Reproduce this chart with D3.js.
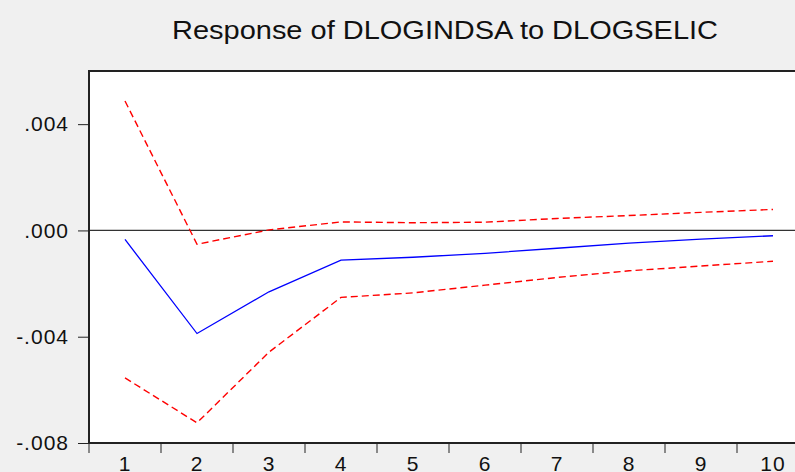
<!DOCTYPE html>
<html>
<head>
<meta charset="utf-8">
<script src="https://cdn.jsdelivr.net/npm/d3@7"></script>
<style>
  body { margin: 0; background: #f0f0f0; }
  svg { display: block; font-family: "Liberation Sans", Arial, sans-serif; }
</style>
</head>
<body>
<div id="chart"></div>
<script>
var width = 795
var height = 472
var padding = { top: 71, right: -14, bottom: 29, left: 89 };

var periods = [1, 2, 3, 4, 5, 6, 7, 8, 9, 10];
var response = [-0.00034, -0.00388, -0.00231, -0.00112, -0.00101, -0.00086, -0.00067, -0.00048, -0.00033, -0.00020];
var upperBand = [0.00487, -0.00052, 0.00002, 0.00032, 0.00029, 0.00031, 0.00045, 0.00056, 0.00068, 0.00079];
var lowerBand = [-0.00555, -0.00724, -0.00458, -0.00252, -0.00235, -0.00206, -0.00177, -0.00152, -0.00134, -0.00116];
var yTicks = [-0.008, -0.004, 0.000, 0.004];
var title = "Response of DLOGINDSA to DLOGSELIC";

var svg = d3.select('#chart')
    .append("svg")
    .attr('width', width)
    .attr('height', height);

var chartWidth = width - padding.left - padding.right;
var chartHeight = height - padding.top - padding.bottom;

var xScale = d3.scaleBand()
    .domain(periods)
    .range([padding.left, padding.left + chartWidth]);
var yScale = d3.scaleLinear()
    .domain([-0.008, 0.006])
    .range([padding.top + chartHeight, padding.top]);

// white plot area
svg.append("rect")
    .attr("x", padding.left)
    .attr("y", padding.top)
    .attr("width", chartWidth)
    .attr("height", chartHeight)
    .style("fill", "#fff");

// zero line
svg.append("line")
    .attr("x1", padding.left)
    .attr("x2", padding.left + chartWidth)
    .attr("y1", yScale(0))
    .attr("y2", yScale(0))
    .style("stroke", "#333")
    .style("stroke-width", 1.3);

var line = function(vals) {
    return d3.line()
        .x(function(d, i) { return xScale(periods[i]) + xScale.bandwidth() / 2; })
        .y(function(d) { return yScale(d); })(vals);
};

[upperBand, lowerBand].forEach(function(band) {
    svg.append("path")
        .attr("d", line(band))
        .style("fill", "none")
        .style("stroke", "#ff0000")
        .style("stroke-width", 1.4)
        .style("stroke-dasharray", "7,4");
});

svg.append("path")
    .attr("d", line(response))
    .style("fill", "none")
    .style("stroke", "#0000ff")
    .style("stroke-width", 1.3);

// frame
svg.append("rect")
    .attr("x", padding.left)
    .attr("y", padding.top)
    .attr("width", chartWidth)
    .attr("height", chartHeight)
    .style("fill", "none")
    .style("stroke", "#222")
    .style("stroke-width", 2);

// y axis
var yAxis = svg.append("g")
    .attr("transform", "translate(" + padding.left + ",0)")
    .call(d3.axisLeft(yScale)
        .tickValues(yTicks)
        .tickSize(11)
        .tickPadding(9)
        .tickFormat(function(d) { return d3.format(".3f")(d).replace("0.", ".").replace("−", "-"); }));
yAxis.select(".domain").remove();
yAxis.selectAll("line").style("stroke", "#222");
yAxis.selectAll("text").style("font-size", "21px").style("fill", "#111")
    .style("letter-spacing", "1px")
    .style("font-family", "Liberation Sans, Arial, sans-serif");

// x axis: ticks at band edges, labels centered
var xAxis = svg.append("g")
    .attr("transform", "translate(0," + (padding.top + chartHeight) + ")");
xAxis.selectAll(".tick")
    .data(periods)
    .enter().append("line")
    .attr("x1", function(d) { return xScale(d); })
    .attr("x2", function(d) { return xScale(d); })
    .attr("y1", 0)
    .attr("y2", 10)
    .style("stroke", "#222");
xAxis.selectAll(".lbl")
    .data(periods)
    .enter().append("text")
    .attr("x", function(d) { return xScale(d) + xScale.bandwidth() / 2; })
    .attr("y", 28)
    .attr("text-anchor", "middle")
    .style("font-size", "21px")
    .style("letter-spacing", "1px")
    .style("fill", "#111")
    .text(function(d) { return d; });

svg.append("text")
    .attr("x", 445)
    .attr("y", 39)
    .attr("text-anchor", "middle")
    .attr("textLength", 546)
    .attr("lengthAdjust", "spacingAndGlyphs")
    .style("font-size", "25px")
    .style("fill", "#111")
    .text(title);
</script>
</body>
</html>
